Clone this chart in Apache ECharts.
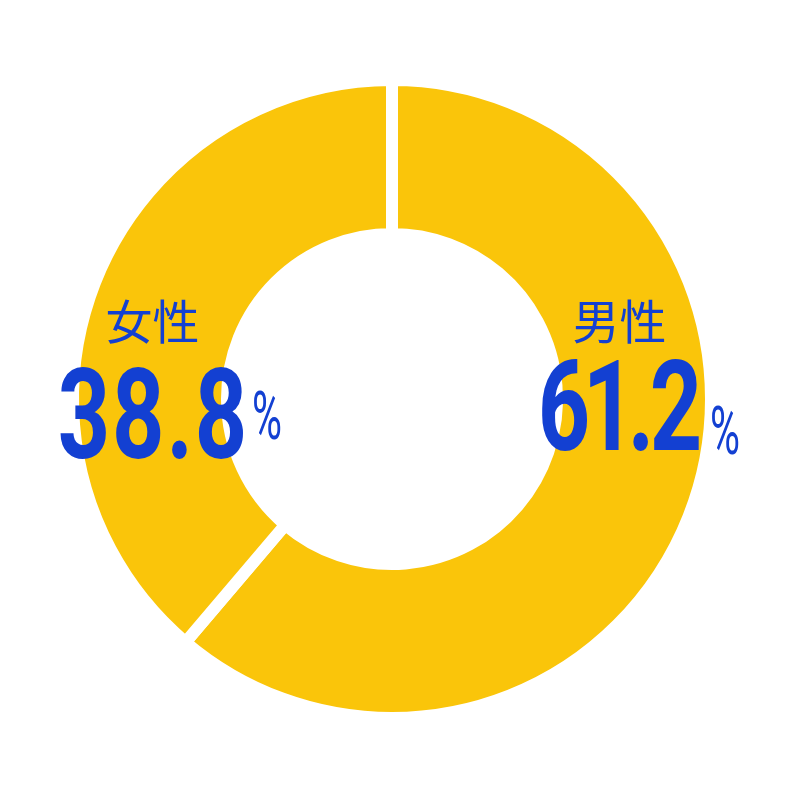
<!DOCTYPE html>
<html>
<head>
<meta charset="utf-8">
<script src="https://cdn.jsdelivr.net/npm/echarts@6/dist/echarts.min.js"></script>
<style>
html,body{margin:0;padding:0;background:#fff;}
#chart{width:801px;height:800px;}
</style>
</head>
<body>
<div id="chart"></div>
<script>
// Data
const categories = ['男性', '女性'];
const values = [61.2, 38.8];
const percentSign = '%';

const YELLOW = '#FAC50A';
const BLUE = '#1340D2';

const chart = echarts.init(document.getElementById('chart'), null, {renderer: 'canvas'});

// label layout (positions only): number spans numStart..numEnd, vertical centre numY
const labelPos = [
  {nameX: 619.5, nameY: 321.5, numStart: 543, numEnd: 697, numY: 408.5, pctX: 710, pctY: 431},
  {nameX: 152.5, nameY: 321.5, numStart: 63, numEnd: 242, numY: 416, pctX: 252, pctY: 416}
];
// approximate glyph widths of a condensed display face
function glyphW(c) { return c === '.' ? 16 : (c === '1' ? 36 : 42); }

const NUM_SIZE = 127, NUM_SCALE = 0.72, NUM_DY = 10;
const PCT_SIZE = 66, PCT_SCALE = 0.62, PCT_DY = 6;

const graphics = [];
categories.forEach((name, i) => {
  const p = labelPos[i];
  graphics.push({
    type: 'text', x: p.nameX, y: p.nameY, z: 10,
    style: {text: name, fill: BLUE, font: 'normal 47px "Noto Sans CJK JP"', align: 'center', verticalAlign: 'middle'}
  });
  const str = values[i].toFixed(1);
  const chars = str.split('');
  const sum = chars.reduce((a, c) => a + glyphW(c), 0);
  const gap = (p.numEnd - p.numStart - sum) / (chars.length - 1);
  let cx = p.numStart;
  chars.forEach(c => {
    const w = glyphW(c);
    graphics.push({
      type: 'text', x: cx + w / 2, y: p.numY + NUM_DY, scaleX: NUM_SCALE, z: 10,
      style: {text: c, fill: BLUE, font: 'bold ' + NUM_SIZE + 'px Roboto', align: 'center', verticalAlign: 'middle'}
    });
    cx += w + gap;
  });
  graphics.push({
    type: 'text', x: p.pctX, y: p.pctY + PCT_DY, scaleX: PCT_SCALE, z: 10,
    style: {text: percentSign, fill: BLUE, font: 'normal ' + PCT_SIZE + 'px Roboto', align: 'left', verticalAlign: 'middle'}
  });
});

chart.setOption({
  animation: false,
  backgroundColor: '#ffffff',
  graphic: graphics,
  series: [{
    type: 'pie',
    center: [392, 399],
    radius: [165, 319],
    startAngle: 90,
    clockwise: true,
    label: {show: false},
    labelLine: {show: false},
    emphasis: {disabled: true},
    itemStyle: {color: YELLOW, borderColor: '#ffffff', borderWidth: 12},
    data: categories.map((c, i) => ({name: c, value: values[i]}))
  }]
});
</script>
</body>
</html>
